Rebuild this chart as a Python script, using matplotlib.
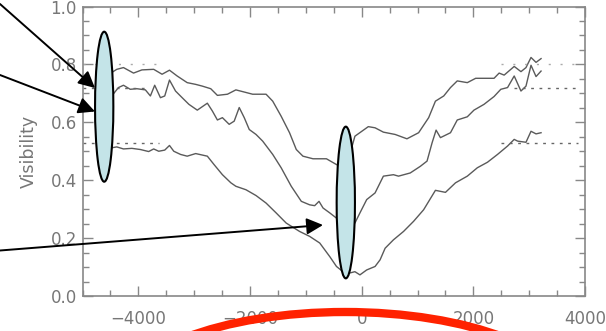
import numpy as np
import matplotlib.pyplot as plt
from matplotlib.patches import Ellipse, FancyArrowPatch
from matplotlib.ticker import MultipleLocator

# Visibilidade vs. velocidade (tres curvas), com anotacoes por cima

# curva superior
x_top = [-4715, -4476, -4386, -4266, -4086, -3936, -3725, -3575, -3442, -3305,
         -3125, -2973, -2854, -2703, -2584, -2404, -2253, -2072, -1953, -1712,
         -1593, -1442, -1292, -1171, -1052, -872, -631, -451, -283, -121,
         119, 240, 389, 600, 811, 1020, 1200, 1321, 1470, 1591,
         1712, 1892, 2042, 2371, 2462, 2552, 2732, 2853, 2943, 3033,
         3123, 3213]
v_top = [0.775, 0.772, 0.783, 0.789, 0.770, 0.781, 0.783, 0.766, 0.780, 0.760,
         0.737, 0.731, 0.725, 0.716, 0.693, 0.697, 0.712, 0.703, 0.697, 0.697,
         0.673, 0.621, 0.564, 0.506, 0.483, 0.474, 0.474, 0.454, 0.440, 0.552,
         0.585, 0.581, 0.566, 0.558, 0.543, 0.564, 0.616, 0.673, 0.691, 0.720,
         0.743, 0.737, 0.752, 0.752, 0.770, 0.763, 0.793, 0.775, 0.789, 0.824,
         0.807, 0.820]

# curva do meio
x_mid = [-4715, -4476, -4356, -4266, -4145, -4026, -3874, -3784, -3707, -3604,
         -3527, -3442, -3334, -3215, -3094, -2944, -2764, -2674, -2584, -2494,
         -2373, -2283, -2193, -2103, -2013, -1892, -1773, -1593, -1442, -1261,
         -1081, -932, -842, -764, -692, -571, -451, -283, -121, -31,
         90, 240, 389, 569, 660, 870, 1051, 1171, 1261, 1333,
         1411, 1591, 1712, 1892, 2011, 2191, 2371, 2492, 2613, 2732,
         2853, 2943, 3033, 3123, 3213]
v_mid = [0.707, 0.691, 0.720, 0.728, 0.714, 0.716, 0.712, 0.691, 0.728, 0.685,
         0.691, 0.746, 0.708, 0.685, 0.662, 0.642, 0.666, 0.639, 0.608, 0.616,
         0.593, 0.604, 0.651, 0.616, 0.575, 0.558, 0.535, 0.489, 0.443, 0.379,
         0.327, 0.315, 0.312, 0.327, 0.304, 0.287, 0.269, 0.243, 0.252, 0.287,
         0.333, 0.356, 0.414, 0.419, 0.414, 0.425, 0.448, 0.466, 0.529, 0.573,
         0.547, 0.564, 0.608, 0.619, 0.642, 0.662, 0.689, 0.714, 0.720, 0.760,
         0.708, 0.725, 0.797, 0.758, 0.777]

# curva inferior
x_bot = [-4715, -4476, -4386, -4266, -4116, -3964, -3815, -3725, -3635, -3527,
         -3442, -3365, -3244, -3125, -2973, -2764, -2644, -2494, -2343, -2253,
         -2072, -1892, -1712, -1532, -1352, -1112, -932, -751, -571, -451,
         -283, -121, -31, 90, 240, 330, 420, 569, 750, 930,
         1110, 1321, 1501, 1681, 1892, 2072, 2253, 2433, 2613, 2732,
         2793, 2943, 3033, 3123, 3213]
v_bot = [0.511, 0.512, 0.515, 0.508, 0.510, 0.506, 0.499, 0.508, 0.500, 0.504,
         0.520, 0.500, 0.489, 0.483, 0.492, 0.483, 0.454, 0.419, 0.391, 0.379,
         0.367, 0.347, 0.321, 0.287, 0.252, 0.223, 0.206, 0.183, 0.136, 0.102,
         0.076, 0.084, 0.073, 0.090, 0.102, 0.125, 0.165, 0.194, 0.223, 0.258,
         0.298, 0.365, 0.358, 0.391, 0.414, 0.443, 0.462, 0.489, 0.518, 0.541,
         0.535, 0.531, 0.569, 0.560, 0.564]

# niveis de referencia (continuo)
ref_levels = [0.80, 0.72, 0.53]
ref_left_end = [-3630, -3870, -3630]
ref_right_start = [2490, 2730, 2490]

fig = plt.figure(figsize=(6.06, 3.31), dpi=100)
ax = fig.add_axes([82.5 / 606, 35 / 331, 502.5 / 606, 289.5 / 331])

cinza = '#5a5a5a'
eixo = '#888888'

ax.plot(x_top, v_top, color=cinza, lw=1.0)
ax.plot(x_mid, v_mid, color=cinza, lw=1.0)
ax.plot(x_bot, v_bot, color=cinza, lw=1.0)

estilos = [(1.5, 7), (2, 4), (2, 4)]
cores_ref = ['#aaaaaa', '#666666', '#666666']
for lev, xl, xr, ds, c in zip(ref_levels, ref_left_end, ref_right_start, estilos, cores_ref):
    ax.plot([-5000, xl], [lev, lev], color=c, lw=1.0, dashes=ds)
    ax.plot([xr, 3880], [lev, lev], color=c, lw=1.0, dashes=ds)

ax.set_xlim(-5000, 4000)
ax.set_ylim(0, 1.0)
ax.set_xticks([-4000, -2000, 0, 2000, 4000])
ax.set_xticklabels(['\u22124000', '\u22122000', '0', '2000', '4000'])
ax.set_yticks([0, 0.2, 0.4, 0.6, 0.8, 1.0])
ax.set_yticklabels(['0.0', '0.2', '0.4', '0.6', '0.8', '1.0'])
ax.xaxis.set_minor_locator(MultipleLocator(500))
ax.yaxis.set_minor_locator(MultipleLocator(0.05))
ax.tick_params(which='both', direction='in', top=True, right=True,
               color=eixo, width=1.0, labelcolor='#777777', labelsize=12)
ax.tick_params(which='major', length=7)
ax.tick_params(which='minor', length=4)
ax.tick_params(axis='x', pad=10)
ax.tick_params(axis='y', pad=4)
for s in ax.spines.values():
    s.set_color(eixo)
    s.set_linewidth(1.2)
ax.set_ylabel('Visibility', fontsize=12.5, color='#777777', labelpad=9)

# camada de anotacoes em pixels da figura
ann = fig.add_axes([0, 0, 1, 1], zorder=5)
ann.set_xlim(0, 606)
ann.set_ylim(331, 0)
ann.axis('off')
ann.patch.set_alpha(0)

azul = '#c4e4e8'
ann.add_patch(Ellipse((104.2, 106.7), 18.3, 150, facecolor=azul, edgecolor='black', lw=1.5))
ann.add_patch(Ellipse((345.8, 202.5), 18.3, 151.7, facecolor=azul, edgecolor='black', lw=1.5))

setas = [((0, 4), (95, 88)), ((0, 75), (95, 111.5)), ((0, 250.5), (323, 225))]
for (x0, y0), (x1, y1) in setas:
    ann.add_patch(FancyArrowPatch((x0, y0), (x1, y1),
                                  arrowstyle='-|>,head_length=0.9,head_width=0.45',
                                  mutation_scale=11, color='black', lw=1.4,
                                  shrinkA=0, shrinkB=0))

ann.add_patch(Ellipse((345, 400), 452, 176, fill=False, edgecolor='#ff2200', lw=6))

fig.savefig('out.png', dpi=100)
